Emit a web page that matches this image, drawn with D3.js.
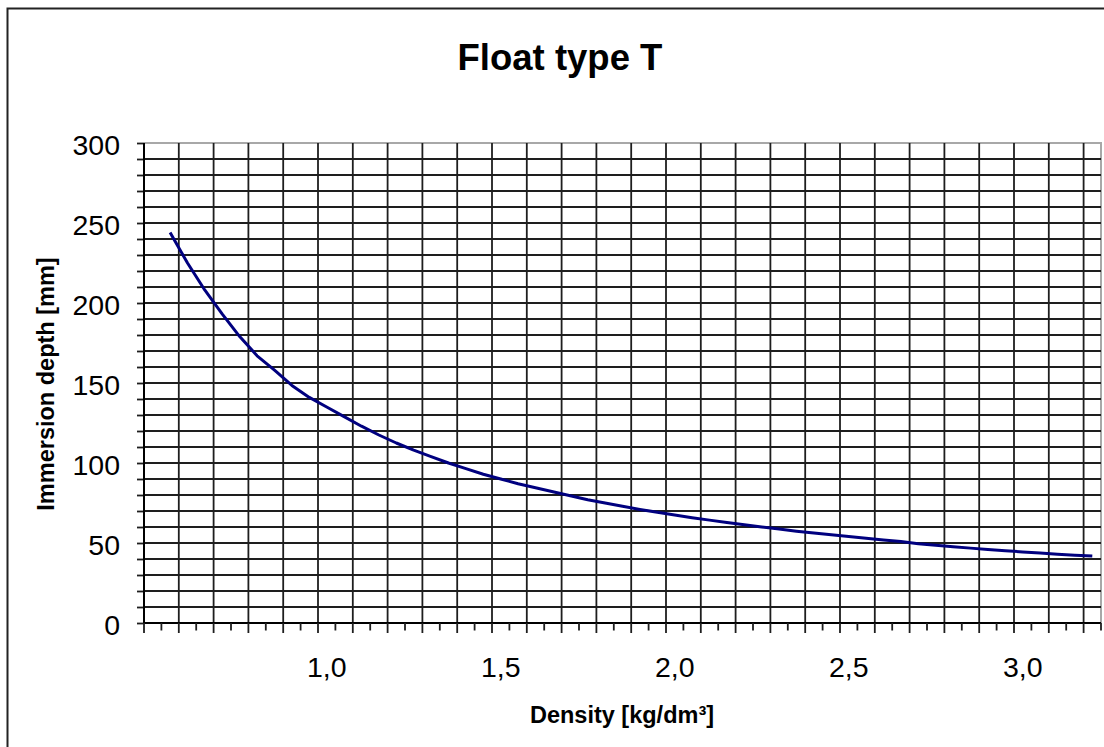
<!DOCTYPE html>
<html>
<head>
<meta charset="utf-8">
<script src="https://cdn.jsdelivr.net/npm/d3@7"></script>
<style>
  body { margin: 0; background: #fff; }
  svg  { display: block; font-family: "Liberation Sans", Arial, sans-serif; }
</style>
</head>
<body>
<svg id="chart" width="1104" height="747"></svg>
<script>
// density categories [kg/dm3], one per band
const densities = [
  0.50, 0.55, 0.60, 0.65, 0.70, 0.75, 0.80, 0.85, 0.90, 0.95,
  1.00, 1.05, 1.10, 1.15, 1.20, 1.25, 1.30, 1.35, 1.40, 1.45,
  1.50, 1.55, 1.60, 1.65, 1.70, 1.75, 1.80, 1.85, 1.90, 1.95,
  2.00, 2.05, 2.10, 2.15, 2.20, 2.25, 2.30, 2.35, 2.40, 2.45,
  2.50, 2.55, 2.60, 2.65, 2.70, 2.75, 2.80, 2.85, 2.90, 2.95,
  3.00, 3.05, 3.10, 3.15, 3.20
]

// immersion depth [mm] (no value at 0.50)
const depths = [
  null, 244, 225, 208, 193, 179, 167, 158, 148.5, 141,
  135, 129, 123, 117.5, 112.5, 108, 104, 100, 96.5, 93,
  90, 87, 84.5, 82, 79.5, 77, 75, 73, 71, 69.2,
  67.5, 65.8, 64.3, 62.8, 61.4, 60, 58.7, 57.4, 56.2, 55.1,
  54, 52.9, 51.9, 50.9, 49.6, 48.6, 47.7, 46.8, 46.0, 45.2,
  44.4, 43.7, 43.0, 42.4, 41.8
]

const yTicks      = [0, 10, 20, 30, 40, 50, 60, 70, 80, 90, 100, 110, 120, 130, 140, 150,
                     160, 170, 180, 190, 200, 210, 220, 230, 240, 250, 260, 270, 280, 290, 300]
const yLabels     = [0, 50, 100, 150, 200, 250, 300]
const xLabelAt    = [1.00, 1.50, 2.00, 2.50, 3.00]
const xLabelText  = ['1,0', '1,5', '2,0', '2,5', '3,0']

const
  svg        = d3.select('#chart'),
  plotLeft   = 144,
  plotRight  = 1101,
  plotTop    = 143,
  plotBottom = 623,
  grid       = '#1e1e1e'

const xScale = d3.scaleBand()
  .domain(densities)
  .range([plotLeft, plotRight])
  .paddingInner(0)
  .paddingOuter(0)

const yScale = d3.scaleLinear()
  .domain([0, 300])
  .range([plotBottom, plotTop])

const bw = xScale.bandwidth()

// outer chart frame (runs off the right and bottom of the picture)
svg.append('rect')
  .attr('x', 7.5).attr('y', 8.5)
  .attr('width', 1300).attr('height', 900)
  .attr('fill', 'none')
  .attr('stroke', '#222')
  .attr('stroke-width', 2)

// title
svg.append('text')
  .attr('x', 560).attr('y', 70)
  .attr('text-anchor', 'middle')
  .attr('font-size', 36.5)
  .attr('font-weight', 'bold')
  .text('Float type T')

// plot border, top and right
svg.append('path')
  .attr('d', `M${plotLeft},${plotTop}H${plotRight}V${plotBottom}`)
  .attr('fill', 'none')
  .attr('stroke', '#a8a8a8')
  .attr('stroke-width', 2)

// horizontal grid every 10 mm
svg.append('g')
  .selectAll('line')
  .data(yTicks.filter(d => d > 0 && d < 300))
  .join('line')
  .attr('x1', plotLeft).attr('x2', plotRight)
  .attr('y1', d => yScale(d)).attr('y2', d => yScale(d))
  .attr('stroke', grid)
  .attr('stroke-width', 1.8)

// vertical grid on every second band boundary
const boundaries = densities.map((d, i) => ({ i, x: xScale(d) }))
boundaries.push({ i: densities.length, x: plotRight })

svg.append('g')
  .selectAll('line')
  .data(boundaries.filter(b => b.i % 2 === 0 && b.i > 0 && b.i < densities.length))
  .join('line')
  .attr('x1', b => b.x).attr('x2', b => b.x)
  .attr('y1', plotTop).attr('y2', plotBottom)
  .attr('stroke', grid)
  .attr('stroke-width', 1.8)

// y axis
const yAxis = d3.axisLeft(yScale)
  .tickValues(yTicks)
  .tickSize(7)
  .tickPadding(17)
  .tickFormat(d => yLabels.includes(d) ? d : '')

const gy = svg.append('g')
  .attr('transform', `translate(${plotLeft},0)`)
  .call(yAxis)

gy.select('.domain').remove()
gy.append('line')
  .attr('x1', 0).attr('x2', 0)
  .attr('y1', plotTop).attr('y2', plotBottom)
  .attr('stroke', '#000').attr('stroke-width', 2)
gy.selectAll('.tick line').attr('stroke', grid).attr('stroke-width', 1.8)
gy.selectAll('.tick text')
  .attr('font-size', 28.5)
  .attr('font-family', '"Liberation Sans", Arial, sans-serif')
  .attr('fill', '#000')
  .attr('dy', '0.4em')

// x axis: ticks on band boundaries, longer on gridlines
const gx = svg.append('g')

gx.append('line')
  .attr('x1', plotLeft).attr('x2', plotRight)
  .attr('y1', plotBottom).attr('y2', plotBottom)
  .attr('stroke', '#000').attr('stroke-width', 2)

gx.selectAll('line.tick')
  .data(boundaries)
  .join('line')
  .attr('class', 'tick')
  .attr('x1', b => b.x).attr('x2', b => b.x)
  .attr('y1', plotBottom)
  .attr('y2', b => plotBottom + (b.i % 2 === 0 ? 10 : 7.5))
  .attr('stroke', grid)
  .attr('stroke-width', 1.8)

gx.selectAll('text')
  .data(xLabelAt)
  .join('text')
  .attr('x', d => xScale(d) + bw / 2)
  .attr('y', 677)
  .attr('text-anchor', 'middle')
  .attr('font-size', 28.5)
  .text((d, i) => xLabelText[i])

// axis titles
svg.append('text')
  .attr('x', 622).attr('y', 723)
  .attr('text-anchor', 'middle')
  .attr('font-size', 23.5)
  .attr('font-weight', 'bold')
  .text('Density [kg/dm³]')

svg.append('text')
  .attr('transform', 'translate(54,384) rotate(-90)')
  .attr('text-anchor', 'middle')
  .attr('font-size', 23.5)
  .attr('font-weight', 'bold')
  .text('Immersion depth [mm]')

// the curve
const points = densities
  .map((d, i) => [d, depths[i]])
  .filter(p => p[1] !== null)

const line = d3.line()
  .x(p => xScale(p[0]) + bw / 2)
  .y(p => yScale(p[1]))

svg.append('path')
  .datum(points)
  .attr('d', line)
  .attr('fill', 'none')
  .attr('stroke', '#00007f')
  .attr('stroke-width', 3)
  .attr('stroke-linejoin', 'round')
</script>
</body>
</html>
